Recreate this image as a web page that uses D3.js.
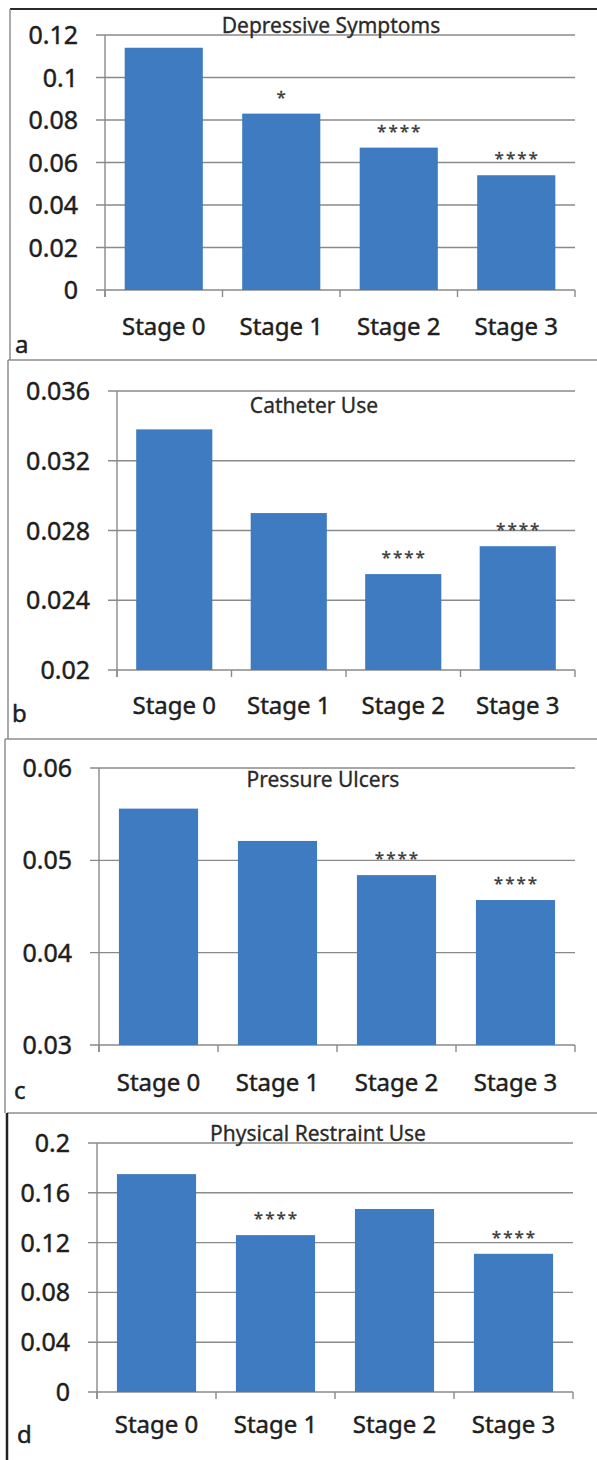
<!DOCTYPE html>
<html>
<head>
<meta charset="utf-8">
<script src="https://cdn.jsdelivr.net/npm/d3@7"></script>
<style>
    body { margin: 0; background: #fff; }
    svg { display: block; }
</style>
</head>
<body>
<svg id="chart"></svg>
<script>
const stages = ["Stage 0", "Stage 1", "Stage 2", "Stage 3"];

const depressive = [0.114, 0.083, 0.067, 0.054];
const catheter = [0.0338, 0.029, 0.0255, 0.0271];
const pressure = [0.0556, 0.0521, 0.0484, 0.0457];
const restraint = [0.175, 0.126, 0.147, 0.111];

const depressiveStars = ["", "*", "****", "****"];
const catheterStars = ["", "", "****", "****"];
const pressureStars = ["", "", "****", "****"];
const restraintStars = ["", "****", "", "****"];

const depressiveTicks = [0, 0.02, 0.04, 0.06, 0.08, 0.1, 0.12];
const catheterTicks = [0.02, 0.024, 0.028, 0.032, 0.036];
const pressureTicks = [0.03, 0.04, 0.05, 0.06];
const restraintTicks = [0, 0.04, 0.08, 0.12, 0.16, 0.2];

const titles = ["Depressive Symptoms", "Catheter Use", "Pressure Ulcers", "Physical Restraint Use"];
const letters = ["a", "b", "c", "d"];

const width = 597;
const height = 1460;
const barColor = "#3f7bc0";
const gridColor = "#8a8a8a";
const textColor = "#1e1e1e";
const font = "'Noto Sans', 'Open Sans', sans-serif";

// page positions of each panel (frame, plot area, title, labels)
const layout = [
    { frameTop: 9, frameLeft: 10, left: 105, right: 575, top: 35, bottom: 290, titleX: 331, titleY: 33, xLabelY: 335, letterX: 15, letterY: 353 },
    { frameTop: 360, frameLeft: 8, left: 117, right: 575, top: 391, bottom: 670, titleX: 314, titleY: 413, xLabelY: 714, letterX: 12, letterY: 722 },
    { frameTop: 739, frameLeft: 5, left: 99, right: 575, top: 768, bottom: 1045, titleX: 323, titleY: 787, xLabelY: 1091, letterX: 14, letterY: 1099 },
    { frameTop: 1113, frameLeft: 7, left: 97, right: 573, top: 1143, bottom: 1392, titleX: 318, titleY: 1141, xLabelY: 1433, letterX: 17, letterY: 1443 }
];

const panels = [
    { values: depressive, stars: depressiveStars, ticks: depressiveTicks },
    { values: catheter, stars: catheterStars, ticks: catheterTicks },
    { values: pressure, stars: pressureStars, ticks: pressureTicks },
    { values: restraint, stars: restraintStars, ticks: restraintTicks }
];

const svg = d3
    .select("#chart")
    .attr("width", width)
    .attr("height", height)
    .attr("font-family", font);

svg.append("rect").attr("width", width).attr("height", height).attr("fill", "#fff");

// slightly heavier text, like the scanned Calibri
const heavy = sel => sel.attr("stroke", textColor).attr("stroke-width", 0.45);

panels.forEach((p, i) => {
    const L = layout[i];
    const g = svg.append("g");

    // panel frame
    const nextTop = i < 3 ? layout[i + 1].frameTop : height + 5;
    g.append("line")
        .attr("x1", L.frameLeft).attr("x2", width + 2)
        .attr("y1", L.frameTop).attr("y2", L.frameTop)
        .attr("stroke", i === 0 ? "#2a2a2a" : "#8e8e8e")
        .attr("stroke-width", i === 0 ? 2 : 1.5);
    g.append("line")
        .attr("x1", L.frameLeft).attr("x2", L.frameLeft)
        .attr("y1", L.frameTop).attr("y2", nextTop)
        .attr("stroke", i === 3 ? "#222" : "#8e8e8e")
        .attr("stroke-width", i === 3 ? 2.5 : 1.5);

    const x = d3
        .scaleBand()
        .domain(stages)
        .range([L.left, L.right])
        .paddingInner(0.335)
        .paddingOuter(0.1675);

    const y = d3
        .scaleLinear()
        .domain(d3.extent(p.ticks))
        .range([L.bottom, L.top]);

    // gridlines + left ticks
    g.append("g")
        .selectAll("line")
        .data(p.ticks)
        .join("line")
        .attr("x1", L.left - 9)
        .attr("x2", L.right)
        .attr("y1", d => y(d))
        .attr("y2", d => y(d))
        .attr("stroke", gridColor)
        .attr("stroke-width", 1.4);

    // y axis line
    g.append("line")
        .attr("x1", L.left).attr("x2", L.left)
        .attr("y1", L.top).attr("y2", L.bottom + 7)
        .attr("stroke", gridColor)
        .attr("stroke-width", 1.4);

    // x ticks at category boundaries
    const edges = stages.map(s => x(s) - x.step() * x.paddingInner() / 2).concat([L.right]);
    g.append("g")
        .selectAll("line")
        .data(edges)
        .join("line")
        .attr("x1", d => d).attr("x2", d => d)
        .attr("y1", L.bottom).attr("y2", L.bottom + 7)
        .attr("stroke", gridColor)
        .attr("stroke-width", 1.4);

    // y labels
    g.append("g")
        .selectAll("text")
        .data(p.ticks)
        .join("text")
        .attr("x", L.left - 27)
        .attr("y", d => y(d))
        .attr("dy", "0.36em")
        .attr("text-anchor", "end")
        .attr("font-size", 25)
        .attr("fill", textColor)
        .call(heavy)
        .text(d => String(d));

    // bars
    g.append("g")
        .selectAll("rect")
        .data(p.values)
        .join("rect")
        .attr("x", (d, j) => x(stages[j]))
        .attr("width", x.bandwidth())
        .attr("y", d => y(d))
        .attr("height", d => L.bottom - y(d))
        .attr("fill", barColor);

    // significance stars
    g.append("g")
        .selectAll("text")
        .data(p.stars)
        .join("text")
        .attr("x", (d, j) => x(stages[j]) + x.bandwidth() / 2 + 1)
        .attr("y", (d, j) => y(p.values[j]) - 11)
        .attr("text-anchor", "middle")
        .attr("font-size", 17)
        .attr("letter-spacing", 2)
        .attr("fill", "#3a3a3a")
        .attr("stroke", "#3a3a3a")
        .attr("stroke-width", 0.3)
        .text(d => d);

    // x labels
    g.append("g")
        .selectAll("text")
        .data(stages)
        .join("text")
        .attr("x", d => x(d) + x.bandwidth() / 2)
        .attr("y", L.xLabelY)
        .attr("text-anchor", "middle")
        .attr("font-size", 24)
        .attr("fill", textColor)
        .call(heavy)
        .text(d => d);

    // title
    g.append("text")
        .attr("x", L.titleX)
        .attr("y", L.titleY)
        .attr("text-anchor", "middle")
        .attr("font-size", 21)
        .attr("fill", "#2a2a2a")
        .attr("stroke", "#2a2a2a")
        .attr("stroke-width", 0.3)
        .text(titles[i]);

    // panel letter
    g.append("text")
        .attr("x", L.letterX)
        .attr("y", L.letterY)
        .attr("font-size", 24)
        .attr("fill", textColor)
        .call(heavy)
        .text(letters[i]);
});
</script>
</body>
</html>
